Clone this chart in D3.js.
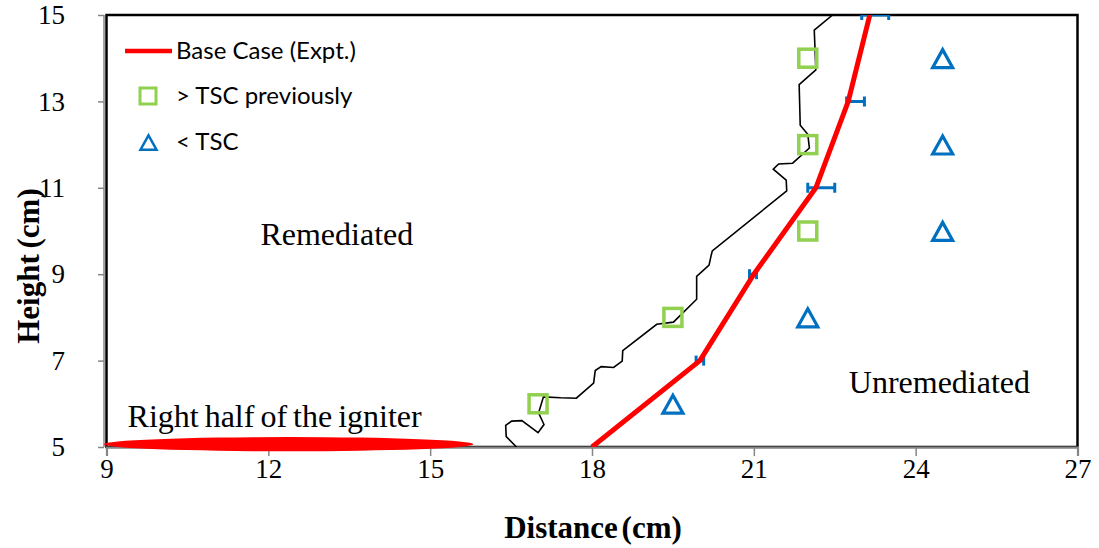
<!DOCTYPE html>
<html>
<head>
<meta charset="utf-8">
<script src="https://cdn.jsdelivr.net/npm/d3@7"></script>
<style>
  html, body { margin: 0; padding: 0; background: #fff; }
  svg { display: block; }
</style>
</head>
<body>
<svg id="chart" width="1099" height="548"></svg>
<script>
// Axis ticks
const xTicks = [9, 12, 15, 18, 21, 24, 27];
const yTicks = [5, 7, 9, 11, 13, 15];

// Base case (experiment) front position
const baseX = [18, 20, 21, 22.15, 22.75, 23.15];
const baseY = [5, 7, 9, 11, 13, 15];

// Horizontal spread of the base case front
const errY = [7, 9, 11, 13, 15];
const errLow = [19.93, 20.92, 22.0, 22.72, 23.0];
const errHigh = [20.07, 21.05, 22.5, 23.05, 23.5];

// Locations that were above TSC previously
const prevX = [17, 19.5, 22, 22, 22];
const prevY = [6, 8, 10, 12, 14];

// Locations below TSC
const belowX = [19.5, 22, 24.5, 24.5, 24.5];
const belowY = [6, 8, 10, 12, 14];

// Remediated / unremediated boundary
const frontX = [16.60, 16.41, 16.40, 16.51, 16.70, 17.00, 17.11, 17.01, 17.10, 17.42, 17.71, 18.03,
                18.06, 18.17, 18.40, 18.56, 18.57, 19.20, 19.51, 19.94, 19.94, 20.17, 20.21, 20.23,
                21.61, 21.60, 21.36, 21.46, 21.72, 22.03, 22.00, 21.86, 21.84, 22.15, 22.12, 22.46];
const frontY = [5.00, 5.24, 5.50, 5.60, 5.61, 5.33, 5.52, 5.79, 6.16, 6.14, 6.13, 6.48,
                6.77, 6.86, 6.84, 6.99, 7.23, 7.84, 7.89, 8.42, 8.95, 9.21, 9.44, 9.54,
                10.93, 11.18, 11.43, 11.55, 11.57, 11.92, 12.24, 12.45, 13.39, 13.73, 14.65, 15.00];

// Igniter extent (cm)
const igniterX = [8.95, 15.8];
const igniterY = [4.9, 5.23];

const legendLabels = ["Base Case (Expt.)", "> TSC previously", "< TSC"];
const regionLabels = [
  { text: "Remediated", x: 13.27, y: 9.68, anchor: "middle" },
  { text: "Unremediated", x: 24.44, y: 6.25, anchor: "middle" },
  { text: "Right half of the igniter", x: 9.39, y: 5.46, anchor: "start" }
];

const RED = "#ff0000", GREEN = "#92d050", BLUE = "#0070c0", AXIS = "#868686";
const serif = "'Liberation Serif', 'Times New Roman', serif";
const sans = "Lato, 'Open Sans', sans-serif";

const svg = d3.select("#chart");
const x = d3.scaleLinear().domain([9, 27]).range([106.5, 1077.5]);
const y = d3.scaleLinear().domain([5, 15]).range([447, 15]);
const [x0, x1] = x.range();
const [y1, y0] = y.range();

svg.append("defs").append("clipPath").attr("id", "plotClip")
  .append("rect").attr("x", x0).attr("y", y0).attr("width", x1 - x0).attr("height", y1 - y0);

// Plot frame
svg.append("rect")
  .attr("x", x0).attr("y", y0).attr("width", x1 - x0).attr("height", y1 - y0)
  .attr("fill", "none").attr("stroke", "#000").attr("stroke-width", 2.5);

// Axes
const xAxis = svg.append("g").attr("transform", `translate(0,${y1})`)
  .call(d3.axisBottom(x).tickValues(xTicks).tickSize(9).tickPadding(3).tickFormat(d3.format("d")));
const yAxis = svg.append("g").attr("transform", `translate(104,0)`)
  .call(d3.axisLeft(y).tickValues(yTicks).tickSize(6).tickPadding(33).tickFormat(d3.format("d")));
[xAxis, yAxis].forEach(g => {
  g.select(".domain").attr("stroke", AXIS).attr("stroke-width", 2.2);
  g.selectAll(".tick line").attr("stroke", AXIS).attr("stroke-width", 1.5);
  g.selectAll(".tick text").attr("fill", "#000").style("font-family", serif).style("font-size", "27px");
});
yAxis.select(".domain").attr("d", `M0,${y0}V${y1}`).attr("stroke-width", 1.5);

// Axis titles
svg.append("text")
  .attr("x", (x0 + x1) / 2 + 1).attr("y", 538)
  .attr("text-anchor", "middle")
  .style("font-family", serif).style("font-weight", "bold").style("font-size", "31px")
  .style("word-spacing", "-4px")
  .text("Distance (cm)");
svg.append("text")
  .attr("transform", "translate(39,266) rotate(-90)")
  .attr("text-anchor", "middle")
  .style("font-family", serif).style("font-weight", "bold").style("font-size", "31px")
  .style("word-spacing", "-2px")
  .text("Height (cm)");

// Igniter
svg.append("ellipse")
  .attr("cx", x((igniterX[0] + igniterX[1]) / 2))
  .attr("cy", y((igniterY[0] + igniterY[1]) / 2))
  .attr("rx", (x(igniterX[1]) - x(igniterX[0])) / 2)
  .attr("ry", (y(igniterY[0]) - y(igniterY[1])) / 2)
  .attr("fill", RED);

const plot = svg.append("g").attr("clip-path", "url(#plotClip)");

// Boundary line
plot.append("path")
  .datum(frontX.map((d, i) => [d, frontY[i]]))
  .attr("d", d3.line().x(d => x(d[0])).y(d => y(d[1])))
  .attr("fill", "none").attr("stroke", "#000").attr("stroke-width", 1.6)
  .attr("stroke-linejoin", "miter");

// Error bars
const eb = plot.append("g").attr("stroke", BLUE).attr("stroke-width", 3);
errY.forEach((v, i) => {
  eb.append("line").attr("x1", x(errLow[i])).attr("x2", x(errHigh[i])).attr("y1", y(v)).attr("y2", y(v));
  [errLow[i], errHigh[i]].forEach(e => {
    eb.append("line").attr("x1", x(e)).attr("x2", x(e)).attr("y1", y(v) - 5).attr("y2", y(v) + 5);
  });
});

// Base case line
plot.append("path")
  .datum(baseX.map((d, i) => [d, baseY[i]]))
  .attr("d", d3.line().x(d => x(d[0])).y(d => y(d[1])))
  .attr("fill", "none").attr("stroke", RED).attr("stroke-width", 5)
  .attr("stroke-linejoin", "round");

// Markers
const tri = s => `M0,${-s * 0.48}L${s / 2},${s * 0.42}L${-s / 2},${s * 0.42}Z`;
plot.selectAll(".prev").data(prevX).join("rect")
  .attr("x", d => x(d) - 9).attr("y", (d, i) => y(prevY[i]) - 9)
  .attr("width", 18).attr("height", 18)
  .attr("fill", "none").attr("stroke", GREEN).attr("stroke-width", 3.5);
plot.selectAll(".below").data(belowX).join("path")
  .attr("transform", (d, i) => `translate(${x(d)},${y(belowY[i]) + 1})`)
  .attr("d", tri(20))
  .attr("fill", "none").attr("stroke", BLUE).attr("stroke-width", 3.2);

// Region labels
svg.selectAll(".region").data(regionLabels).join("text")
  .attr("x", d => x(d.x)).attr("y", d => y(d.y))
  .attr("text-anchor", d => d.anchor)
  .style("font-family", serif).style("font-size", "32px")
  .style("word-spacing", "-2px")
  .text(d => d.text);

// Legend
const lg = svg.append("g");
const rowY = [51, 96, 142];
lg.append("line").attr("x1", 125).attr("x2", 172).attr("y1", rowY[0]).attr("y2", rowY[0])
  .attr("stroke", RED).attr("stroke-width", 4.5);
lg.append("rect").attr("x", 140).attr("y", rowY[1] - 8).attr("width", 16).attr("height", 16)
  .attr("fill", "none").attr("stroke", GREEN).attr("stroke-width", 3);
lg.append("path").attr("transform", `translate(148.5,${rowY[2] + 1})`).attr("d", tri(16))
  .attr("fill", "none").attr("stroke", BLUE).attr("stroke-width", 2.5);
lg.selectAll("text").data(legendLabels).join("text")
  .attr("x", 176).attr("y", (d, i) => rowY[i]).attr("dy", "0.35em")
  .style("font-family", sans).style("font-size", "24px")
  .text(d => d);
</script>
</body>
</html>
